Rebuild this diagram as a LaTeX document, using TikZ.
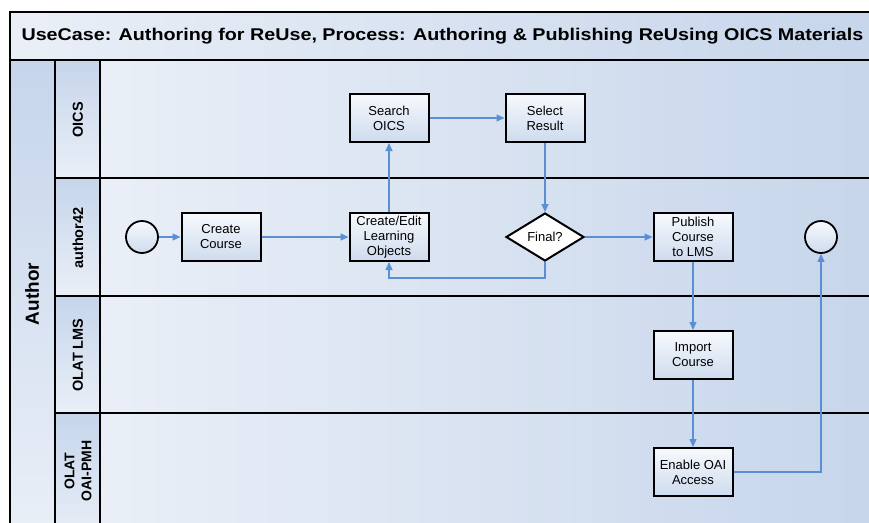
\documentclass[tikz,border=0pt]{standalone}
\usepackage{fontspec}
\setmainfont{Liberation Sans}
\usetikzlibrary{arrows.meta,shapes.geometric}
\definecolor{flow}{RGB}{91,143,212}
\definecolor{lanelight}{RGB}{234,239,247}
\definecolor{lanedark}{RGB}{198,213,235}
\definecolor{boxlight}{RGB}{247,249,253}
\definecolor{boxdark}{RGB}{206,219,238}

\begin{document}
\begin{tikzpicture}[x=1pt, y=-1pt,
  task/.style={rectangle, draw=black, line width=2pt, minimum width=79pt, minimum height=48pt, inner sep=1pt, align=center, font=\fontsize{13}{15}\selectfont, top color=boxlight, bottom color=boxdark},
  event/.style={circle, draw=black, line width=1.8pt, minimum size=32pt, inner sep=0pt, top color=boxlight, bottom color=boxdark},
  gate/.style={diamond, draw=black, line width=2pt, minimum width=78pt, minimum height=48pt, inner sep=0pt, fill=white, font=\fontsize{13}{15}\selectfont},
  flowline/.style={draw=flow, line width=1.2pt, -{Triangle[length=8pt,width=7pt]}},
  lanelabel/.style={rotate=90, font=\bfseries\fontsize{14.5}{16}\selectfont, align=center},
  frame/.style={draw=black, line width=2pt}]
  \useasboundingbox (0,0) rectangle (869,522);
  \clip (0,0) rectangle (869,522);
  % pool background
  \shade[left color=lanelight, right color=lanedark] (10,12) rectangle (890,60);
  \shade[left color=lanelight, right color=lanedark] (100,60) rectangle (890,540);
  \shade[top color=lanedark, bottom color=lanelight] (10,60) rectangle (55,540);
  \foreach \ya/\yb in {60/178, 178/296, 296/413, 413/540}
    \shade[top color=lanedark, bottom color=lanelight] (55,\ya) rectangle (100,\yb);
  % frame and lanes
  \draw[frame] (890,12) -- (10,12) -- (10,540);
  \draw[frame] (10,60) -- (890,60);
  \draw[frame] (55,60) -- (55,540);
  \draw[frame] (100,60) -- (100,540);
  \foreach \y in {178, 296, 413}
    \draw[frame] (55,\y) -- (890,\y);
  % labels
  \node[anchor=west, font=\bfseries\fontsize{17}{18}\selectfont] (title) at (18,36) {\scalebox{1.16}[1]{UseCase: Authoring for ReUse, Process: Authoring \& Publishing ReUsing OICS Materials}};
  \node[lanelabel, font=\bfseries\fontsize{19}{20}\selectfont] (pool) at (32,294) {Author};
  \node[lanelabel] (laneoics) at (78,120) {OICS};
  \node[lanelabel] (laneauthor) at (78,238) {author42};
  \node[lanelabel] (lanelms) at (78,355) {OLAT LMS};
  \node[lanelabel, font=\bfseries\fontsize{14}{17}\selectfont] (laneoai) at (78,471) {OLAT\\OAI-PMH};
  % flow objects
  \node[event] (start) at (142,237) {};
  \node[task] (create) at (221,237) {Create\\Course};
  \node[task] (edit) at (389,237) {Create/Edit\\Learning\\Objects};
  \node[task] (search) at (389,118) {Search\\OICS};
  \node[task] (select) at (545,118) {Select\\Result};
  \node[gate] (final) at (545,237) {Final?};
  \node[task] (publish) at (693,237) {Publish\\Course\\to LMS};
  \node[task] (import) at (693,355) {Import\\Course};
  \node[task] (enable) at (693,472) {Enable OAI\\Access};
  \node[event] (end) at (821,237) {};
  \coordinate (loop) at (545,278);
  % sequence flows
  \draw[flowline] (start) -- (create);
  \draw[flowline] (create) -- (edit);
  \draw[flowline] (edit) -- (search);
  \draw[flowline] (search) -- (select);
  \draw[flowline] (select) -- (final);
  \draw[flowline] (final) -- (publish);
  \draw[flowline] (final.south) -- (loop) -| (edit.south);
  \draw[flowline] (publish) -- (import);
  \draw[flowline] (import) -- (enable);
  \draw[flowline] (enable.east) -| (end.south);
\end{tikzpicture}
\end{document}
